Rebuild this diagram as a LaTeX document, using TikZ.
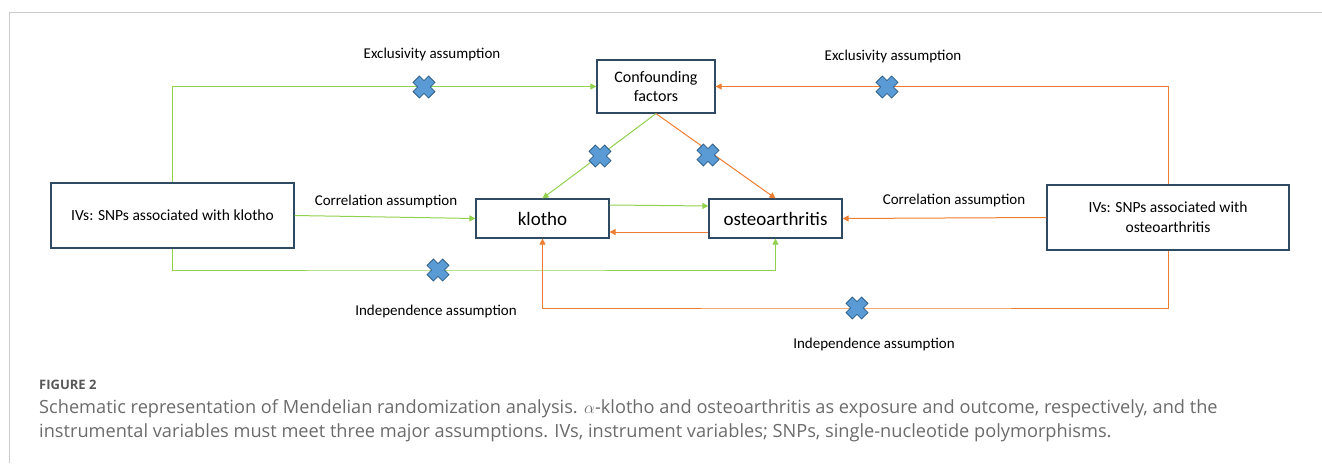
\documentclass[tikz,border=0pt]{standalone}
\usepackage{fontspec}
\setmainfont{Carlito}
\newfontfamily\capfont{Open Sans}
\usetikzlibrary{arrows.meta}

\definecolor{mrgreen}{HTML}{92D050}
\definecolor{mrorange}{HTML}{ED7D31}
\definecolor{boxedge}{HTML}{2F4A63}
\definecolor{xfill}{HTML}{5B9BD5}
\definecolor{xedge}{HTML}{2E5F8A}
\definecolor{capgray}{HTML}{6B6B6B}

\tikzset{
  mrbox/.style={draw=boxedge, line width=1.2pt, fill=white, align=center, inner sep=2pt},
  grn/.style={draw=mrgreen, line width=1pt, -{Triangle[length=6pt,width=6pt]}, mrgreen},
  org/.style={draw=mrorange, line width=1pt, -{Triangle[length=6pt,width=6pt]}, mrorange},
  lbl/.style={font=\fontsize{15}{18}\selectfont},
  nomark/.pic={
    \draw[fill=xfill, draw=xedge, line width=0.8pt, rotate=45]
      (4.5pt,4.5pt) -- (4.5pt,11pt) -- (-4.5pt,11pt) -- (-4.5pt,4.5pt) -- (-11pt,4.5pt)
      -- (-11pt,-4.5pt) -- (-4.5pt,-4.5pt) -- (-4.5pt,-11pt) -- (4.5pt,-11pt)
      -- (4.5pt,-4.5pt) -- (11pt,-4.5pt) -- (11pt,4.5pt) -- cycle;
  }
}

\begin{document}
\begin{tikzpicture}[x=1pt, y=-1pt]
        \useasboundingbox (0,0) rectangle (1322,463);
        \draw[black!20, line width=1pt] (1322,12) -- (9,12) -- (9,463);

        \node[mrbox, minimum width=118pt, minimum height=53pt, font=\fontsize{16}{19}\selectfont] (conf) at (656,86.5) {Confounding\\factors};
        \node[mrbox, minimum width=133pt, minimum height=39pt, font=\fontsize{19}{22}\selectfont] (klotho) at (542.5,218.5) {klotho};
        \node[mrbox, minimum width=133pt, minimum height=39pt, font=\fontsize{19}{22}\selectfont] (osteo) at (775.5,218.5) {osteoarthritis};
        \node[mrbox, minimum width=243pt, minimum height=65pt, font=\fontsize{15.5}{20}\selectfont] (ivk) at (172.5,215.5) {IVs: SNPs associated with klotho};
        \node[mrbox, minimum width=242pt, minimum height=65pt, font=\fontsize{15.5}{20}\selectfont] (ivo) at (1168,217.5) {IVs: SNPs associated with\\osteoarthritis};

        \coordinate (lowk) at (438,270);
        \coordinate (lowo) at (857,308);

        \draw[grn] (ivk.north) |- (conf.west);
        \draw[org] (ivo.north) |- (conf.east);
        \draw[grn] (conf.south) -- (klotho.north);
        \draw[org] (conf.south) -- (osteo.north);
        \draw[grn] ([yshift=13.5pt]klotho.east) -- ([yshift=12.5pt]osteo.west);
        \draw[org] ([yshift=-13.5pt]osteo.west) -- ([yshift=-13.5pt]klotho.east);
        \draw[grn] (ivk.east) -- (klotho.west);
        \draw[org] (ivo.west) -- (osteo.east);
        \draw[grn] (ivk.south) |- (lowk) -| (osteo.south);
        \draw[org] (ivo.south) |- (lowo) -| (klotho.south);

        \pic at (424,87) {nomark};
        \pic at (887,87) {nomark};
        \pic at (600,156) {nomark};
        \pic at (708,155) {nomark};
        \pic at (lowk) {nomark};
        \pic at (lowo) {nomark};

        \node[lbl] (excl1) at (432,55) {Exclusivity assumption};
        \node[lbl] (excl2) at (893,57) {Exclusivity assumption};
        \node[lbl] (corr1) at (386,201) {Correlation assumption};
        \node[lbl] (corr2) at (954,200) {Correlation assumption};
        \node[lbl] (ind1) at (436,311) {Independence assumption};
        \node[lbl] (ind2) at (874,344) {Independence assumption};

        % caption
        \node[anchor=base west, inner sep=0pt, text=black!65, font=\capfont\bfseries\fontsize{13}{15}\selectfont] (fig) at (39,389) {FIGURE 2};
        \node[anchor=base west, inner sep=0pt, text=capgray, font=\capfont\fontsize{18.2}{24}\selectfont] (cap1) at (39,413)
          {Schematic representation of Mendelian randomization analysis. $\alpha$-klotho and osteoarthritis as exposure and outcome, respectively, and the};
        \node[anchor=base west, inner sep=0pt, text=capgray, font=\capfont\fontsize{18.2}{24}\selectfont] (cap2) at (39,437)
          {instrumental variables must meet three major assumptions. IVs, instrument variables; SNPs, single-nucleotide polymorphisms.};
      \end{tikzpicture}
\end{document}
